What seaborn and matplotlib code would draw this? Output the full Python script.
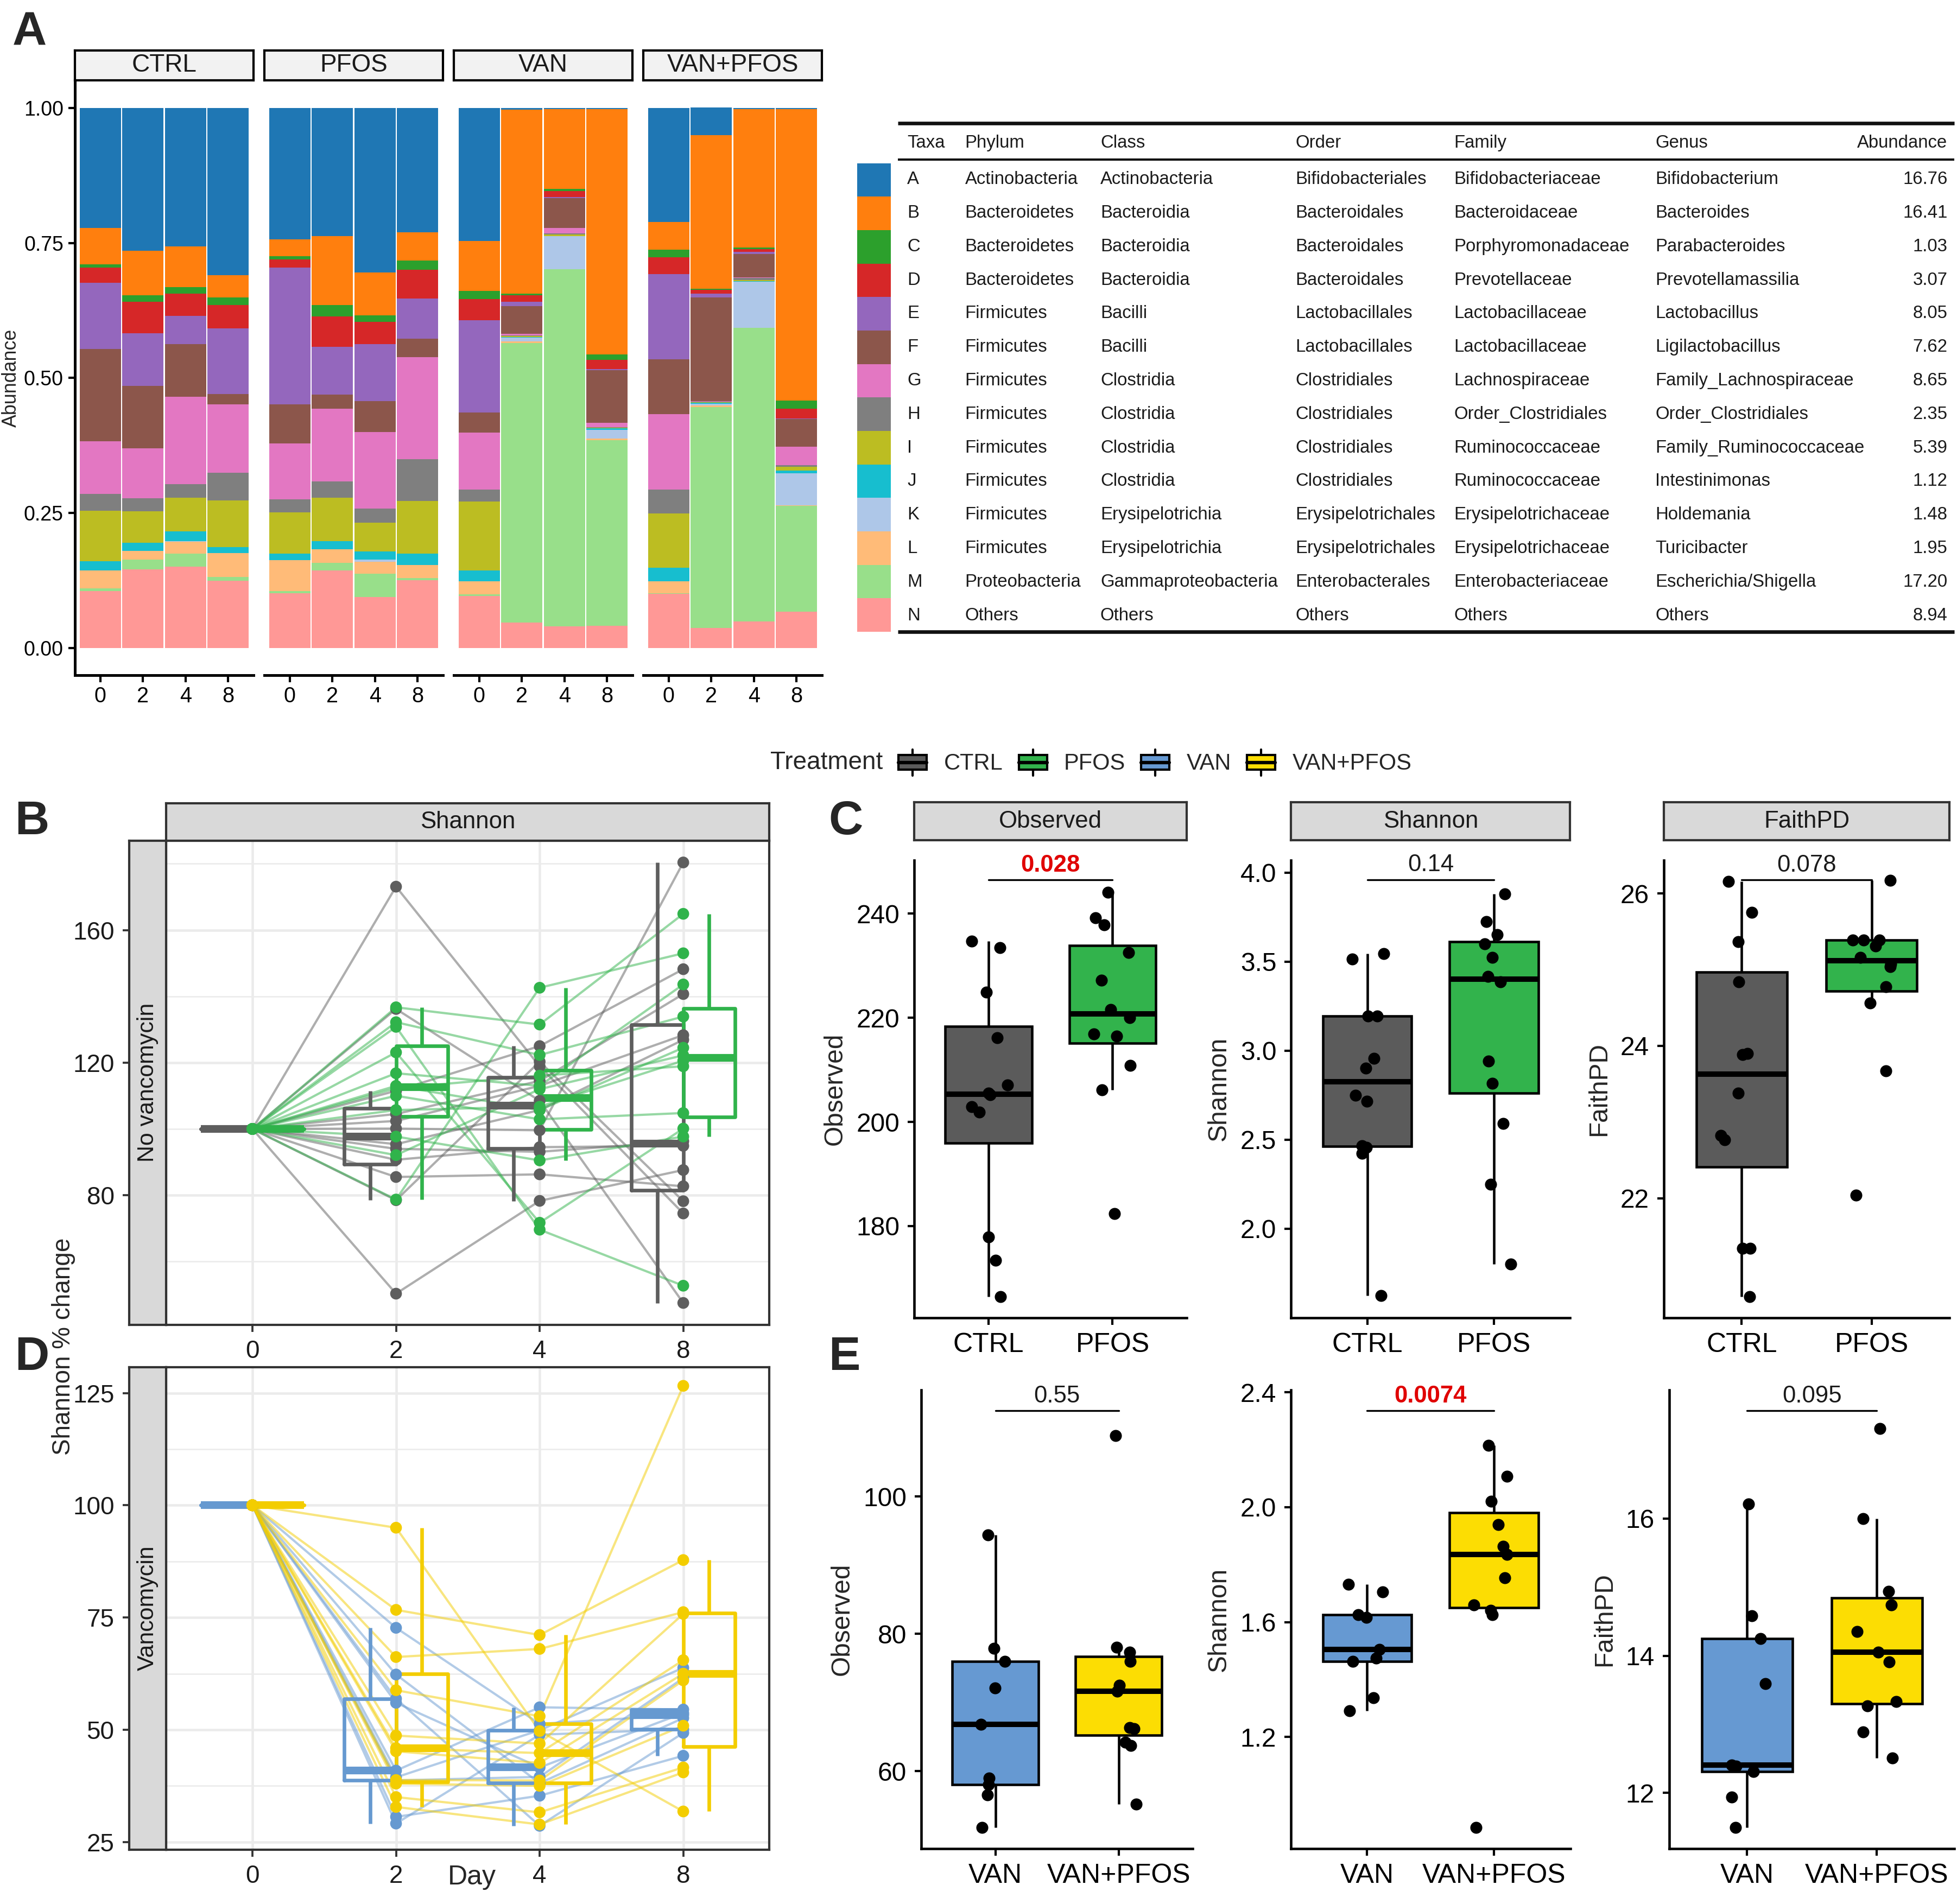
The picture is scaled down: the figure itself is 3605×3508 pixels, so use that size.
import numpy as np
import pandas as pd
import matplotlib
matplotlib.use("Agg")
import matplotlib.pyplot as plt
import seaborn as sns
from matplotlib.lines import Line2D
from matplotlib.patches import Rectangle, Patch
from matplotlib.legend_handler import HandlerBase
from matplotlib.ticker import MultipleLocator, FormatStrFormatter

sns.set_style("ticks")
plt.rcParams['font.family'] = ['Liberation Sans', 'DejaVu Sans']

# ---------------- panel A : relative abundance ----------------
treatments = ['CTRL', 'PFOS', 'VAN', 'VAN+PFOS']
days = ['0', '2', '4', '8']
taxa = list('ABCDEFGHIJKLMN')
taxa_colors = ['#1f77b4', '#ff7f0e', '#2ca02c', '#d62728', '#9467bd', '#8c564b', '#e377c2',
               '#7f7f7f', '#bcbd22', '#17becf', '#aec7e8', '#ffbb78', '#98df8a', '#ff9896']

# 16 samples: CTRL d0,2,4,8 | PFOS d0..8 | VAN d0..8 | VAN+PFOS d0..8
abund_A = [.222, .264, .256, .310, .243, .237, .305, .230, .246, .003, .002, .002, .211, .051, .002, .002]
abund_B = [.068, .083, .076, .041, .031, .128, .079, .052, .093, .341, .148, .454, .051, .285, .256, .540]
abund_C = [.006, .012, .012, .014, .006, .021, .012, .018, .015, .003, .004, .010, .014, .002, .003, .015]
abund_D = [.028, .058, .041, .043, .016, .056, .041, .053, .039, .012, .011, .017, .032, .007, .005, .018]
abund_E = [.122, .098, .052, .122, .253, .089, .106, .074, .171, .008, .002, .002, .157, .007, .004, .001]
abund_F = [.171, .115, .098, .019, .072, .026, .057, .034, .037, .051, .055, .098, .102, .192, .044, .051]
abund_G = [.098, .093, .162, .126, .104, .135, .142, .189, .106, .003, .010, .008, .140, .001, .001, .034]
abund_H = [.031, .024, .025, .052, .024, .030, .026, .078, .022, .001, .002, .001, .044, .001, .004, .003]
abund_I = [.093, .058, .062, .086, .076, .080, .053, .097, .127, .002, .003, .001, .100, .001, .002, .007]
abund_J = [.017, .015, .018, .011, .012, .015, .015, .021, .020, .001, .000, .003, .025, .002, .001, .005]
abund_K = [.000, .000, .001, .000, .000, .000, .004, .000, .000, .007, .062, .016, .000, .003, .085, .060]
abund_L = [.034, .016, .022, .044, .058, .025, .022, .024, .025, .003, .000, .003, .023, .003, .000, .001]
abund_M = [.005, .018, .024, .007, .004, .014, .044, .004, .003, .518, .661, .344, .001, .409, .544, .196]
abund_N = [.105, .146, .151, .125, .101, .144, .094, .126, .096, .047, .040, .041, .100, .037, .049, .067]

# taxonomy table
tab_phylum = ['Actinobacteria', 'Bacteroidetes', 'Bacteroidetes', 'Bacteroidetes', 'Firmicutes',
              'Firmicutes', 'Firmicutes', 'Firmicutes', 'Firmicutes', 'Firmicutes', 'Firmicutes',
              'Firmicutes', 'Proteobacteria', 'Others']
tab_class = ['Actinobacteria', 'Bacteroidia', 'Bacteroidia', 'Bacteroidia', 'Bacilli', 'Bacilli',
             'Clostridia', 'Clostridia', 'Clostridia', 'Clostridia', 'Erysipelotrichia',
             'Erysipelotrichia', 'Gammaproteobacteria', 'Others']
tab_order = ['Bifidobacteriales', 'Bacteroidales', 'Bacteroidales', 'Bacteroidales', 'Lactobacillales',
             'Lactobacillales', 'Clostridiales', 'Clostridiales', 'Clostridiales', 'Clostridiales',
             'Erysipelotrichales', 'Erysipelotrichales', 'Enterobacterales', 'Others']
tab_family = ['Bifidobacteriaceae', 'Bacteroidaceae', 'Porphyromonadaceae', 'Prevotellaceae',
              'Lactobacillaceae', 'Lactobacillaceae', 'Lachnospiraceae', 'Order_Clostridiales',
              'Ruminococcaceae', 'Ruminococcaceae', 'Erysipelotrichaceae', 'Erysipelotrichaceae',
              'Enterobacteriaceae', 'Others']
tab_genus = ['Bifidobacterium', 'Bacteroides', 'Parabacteroides', 'Prevotellamassilia', 'Lactobacillus',
             'Ligilactobacillus', 'Family_Lachnospiraceae', 'Order_Clostridiales', 'Family_Ruminococcaceae',
             'Intestinimonas', 'Holdemania', 'Turicibacter', 'Escherichia/Shigella', 'Others']
tab_abund = [16.76, 16.41, 1.03, 3.07, 8.05, 7.62, 8.65, 2.35, 5.39, 1.12, 1.48, 1.95, 17.20, 8.94]

# ---------------- panels B / D : Shannon % change per mouse ----------------
ctrl_d2 = [173.1, 136.2, 111.5, 104.5, 102.4, 100.1, 95.4, 94.0, 90.7, 85.5, 78.5, 50.3]
ctrl_d4 = [118.9, 108.5, 125.0, 114.5, 113.0, 99.6, 105.7, 93.1, 94.5, 86.3, 120.3, 78.3]
ctrl_d8 = [74.5, 47.5, 148.2, 140.7, 128.3, 180.4, 126.9, 96.3, 94.9, 82.7, 78.2, 87.6]
pfos_d2 = [136.7, 132.2, 130.8, 123.1, 116.8, 113.0, 112.3, 110.0, 105.7, 97.7, 92.1, 78.7]
pfos_d4 = [131.5, 122.3, 69.6, 71.7, 113.0, 105.7, 116.1, 102.9, 106.7, 90.5, 112.0, 142.6]
pfos_d8 = [164.9, 133.9, 52.7, 100.1, 143.6, 124.5, 118.9, 104.8, 120.6, 97.7, 122.2, 153.0]
van_d2 = [72.7, 62.3, 56.9, 56.0, 40.9, 39.4, 38.7, 30.6, 29.1]
van_d4 = [51.3, 38.1, 28.6, 41.6, 55.0, 49.9, 39.5, 35.3, 48.9]
van_d8 = [53.3, 52.6, 49.3, 53.7, 54.5, 63.8, 61.5, 44.2, 50.1]
vp_d2 = [95.0, 76.7, 66.2, 58.8, 48.7, 45.9, 45.2, 38.8, 38.0, 35.0, 32.8]
vp_d4 = [49.7, 71.1, 68.0, 53.0, 46.9, 44.8, 42.6, 38.7, 37.5, 31.6, 28.9]
vp_d8 = [31.8, 87.8, 76.2, 126.6, 75.8, 65.5, 62.5, 61.0, 50.9, 41.6, 40.5]
baseline = 100.0

# ---------------- panels C / E : alpha diversity at day 8 ----------------
obs_ctrl = [234.7, 233.5, 224.9, 216.2, 207.1, 205.2, 205.5, 202.9, 201.9, 177.9, 173.4, 166.4]
obs_pfos = [244.1, 239.2, 237.9, 232.5, 227.2, 221.6, 220.0, 216.9, 216.5, 210.9, 206.2, 182.4]
sha_ctrl = [3.545, 3.513, 3.194, 3.194, 2.955, 2.902, 2.748, 2.714, 2.464, 2.455, 2.422, 1.623]
sha_pfos = [3.879, 3.723, 3.652, 3.600, 3.522, 3.417, 3.386, 2.940, 2.817, 2.592, 2.248, 1.801]
fpd_ctrl = [26.157, 25.754, 25.367, 24.839, 23.903, 23.882, 23.380, 22.826, 22.763, 21.341, 21.341, 20.703]
fpd_pfos = [26.173, 25.388, 25.388, 25.388, 25.310, 25.163, 25.075, 25.040, 24.776, 24.562, 23.668, 22.042]
obs_van = [94.4, 77.9, 76.0, 72.1, 66.8, 59.0, 58.0, 56.5, 51.8]
obs_vp = [108.9, 78.0, 77.3, 76.0, 72.5, 71.6, 66.3, 66.2, 64.2, 63.7, 55.2]
sha_van = [1.731, 1.705, 1.625, 1.616, 1.504, 1.474, 1.463, 1.337, 1.291]
sha_vp = [2.215, 2.108, 2.021, 1.940, 1.864, 1.836, 1.754, 1.659, 1.640, 1.625, 0.885]
fpd_van = [16.21, 14.58, 14.25, 13.59, 12.41, 12.39, 12.31, 11.94, 11.50]
fpd_vp = [17.31, 16.00, 14.94, 14.74, 14.35, 14.05, 13.91, 13.33, 13.27, 12.89, 12.51]
pvals_C = ['0.028', '0.14', '0.078']
pvals_E = ['0.55', '0.0074', '0.095']

line_colors = {'CTRL': '#5E5E5E', 'PFOS': '#30B34B', 'VAN': '#6699D0', 'VAN+PFOS': '#F3CD00'}
fill_colors = {'CTRL': '#5B5B5B', 'PFOS': '#32B34C', 'VAN': '#6699D2', 'VAN+PFOS': '#FCDD03'}

# ---------------- figure ----------------
fig = plt.figure(figsize=(3605 / 300, 3508 / 300), dpi=300)
W, H = 1568.0, 1526.0


def rect(x0, y0, x1, y1):
    return [x0 / W, 1 - y1 / H, (x1 - x0) / W, (y1 - y0) / H]


def strip(box, label, fc, ec, size, rotation=0):
    ax = fig.add_axes(rect(*box))
    ax.set_facecolor(fc)
    ax.set_xticks([])
    ax.set_yticks([])
    for s in ax.spines.values():
        s.set_color(ec)
        s.set_linewidth(1.0)
    ax.text(0.5, 0.5, label, transform=ax.transAxes, ha='center', va='center',
            rotation=rotation, fontsize=size, color='#1a1a1a')
    return ax


def fig_text(x, y, s, **kw):
    fig.text(x / W, 1 - y / H, s, **kw)


# ---- A: stacked bars ----
rows = []
for t, vals in zip(taxa, [abund_A, abund_B, abund_C, abund_D, abund_E, abund_F, abund_G,
                          abund_H, abund_I, abund_J, abund_K, abund_L, abund_M, abund_N]):
    for k, v in enumerate(vals):
        rows.append(dict(taxon=t, treat=treatments[k // 4], day=days[k % 4], value=v))
dfA = pd.DataFrame(rows)
dfA['taxon'] = pd.Categorical(dfA['taxon'], taxa, ordered=True)
dfA = dfA.sort_values(['treat', 'day', 'taxon'], ascending=[True, True, False])
dfA['top'] = dfA.groupby(['treat', 'day'])['value'].cumsum()

xs_A = [(59.9, 203.3), (211.7, 355.1), (363.5, 506.9), (515.3, 658.7)]
for k, tr in enumerate(treatments):
    x0, x1 = xs_A[k]
    ax = fig.add_axes(rect(x0, 64.9, x1, 541))
    sub = dfA[dfA.treat == tr]
    sns.barplot(data=sub, x='day', y='top', hue='taxon', order=days, hue_order=taxa,
                palette=taxa_colors, dodge=False, width=0.97, saturation=1, linewidth=0,
                errorbar=None, legend=False, ax=ax)
    ax.set_xlim(-0.6, 3.6)
    ax.set_ylim(-0.05, 1.05)
    ax.set_xlabel('')
    ax.set_ylabel('')
    ax.spines['top'].set_visible(False)
    ax.spines['right'].set_visible(False)
    ax.spines['bottom'].set_linewidth(1.2)
    ax.spines['bottom'].set_color('black')
    ax.tick_params(axis='x', length=3, width=1, labelsize=9.5, colors='black', pad=2)
    if k == 0:
        ax.set_yticks([0, 0.25, 0.5, 0.75, 1.0])
        ax.yaxis.set_major_formatter(FormatStrFormatter('%.2f'))
        ax.tick_params(axis='y', length=3, width=1, labelsize=9, colors='black', pad=2)
        ax.spines['left'].set_linewidth(1.2)
        ax.spines['left'].set_color('black')
    else:
        ax.spines['left'].set_visible(False)
        ax.tick_params(axis='y', left=False, labelleft=False)
    ax.set_facecolor('none')
    strip((x0, 40.4, x1, 64.2), tr, '#F2F2F2', 'black', 11)

fig_text(9, 303, 'Abundance', rotation=90, ha='center', va='center', fontsize=8.6)

# colour key column of the table
axL = fig.add_axes(rect(687, 130.8, 713.7, 506.4))
sns.barplot(x=[1] * len(taxa), y=taxa, hue=taxa, palette=taxa_colors, orient='h', width=1,
            saturation=1, linewidth=0, legend=False, ax=axL)
axL.set_xlim(0, 1)
axL.set_ylim(len(taxa) - 0.5, -0.5)
axL.axis('off')

# taxonomy table
axT = fig.add_axes(rect(719.4, 90, 1568, 515))
axT.set_xlim(719.4, 1568)
axT.set_ylim(515, 90)
axT.axis('off')
axT.plot([719.4, 1566], [98.9, 98.9], color='#111111', lw=1.6, solid_capstyle='butt')
axT.plot([719.4, 1566], [127.8, 127.8], color='#111111', lw=1.0, solid_capstyle='butt')
axT.plot([719.4, 1566], [506.4, 506.4], color='#111111', lw=1.6, solid_capstyle='butt')
col_x = [726.8, 773.2, 881.6, 1038.1, 1165.1, 1326.2]
headers = ['Taxa', 'Phylum', 'Class', 'Order', 'Family', 'Genus']
tkw = dict(fontsize=7.9, color='#1a1a1a', va='center')
for cx, hd in zip(col_x, headers):
    axT.text(cx, 114.7, hd, ha='left', **tkw)
axT.text(1560.4, 114.7, 'Abundance', ha='right', **tkw)
for i in range(len(taxa)):
    y = 143.9 + i * 26.88
    for cx, col in zip(col_x, [taxa, tab_phylum, tab_class, tab_order, tab_family, tab_genus]):
        axT.text(cx, y, col[i], ha='left', **tkw)
    axT.text(1560.4, y, f"{tab_abund[i]:.2f}", ha='right', **tkw)


# ---- B / D: trajectories ----
def long_df(name, d2, d4, d8):
    out = []
    for m in range(len(d2)):
        for pos, (d, v) in enumerate(zip(days, [baseline, d2[m], d4[m], d8[m]])):
            out.append(dict(mouse=f"{name}{m}", Treatment=name, Day=d, pos=pos, value=v))
    return out


dfB = pd.DataFrame(long_df('CTRL', ctrl_d2, ctrl_d4, ctrl_d8) + long_df('PFOS', pfos_d2, pfos_d4, pfos_d8))
dfD = pd.DataFrame(long_df('VAN', van_d2, van_d4, van_d8) + long_df('VAN+PFOS', vp_d2, vp_d4, vp_d8))


def traj_panel(box, df, groups, ylim, major, minor, strip_label):
    x0, y0, x1, y1 = box
    ax = fig.add_axes(rect(*box))
    pal = {g: line_colors[g] for g in groups}
    sns.lineplot(data=df, x='pos', y='value', hue='Treatment', hue_order=groups, units='mouse',
                 estimator=None, palette=pal, alpha=0.5, lw=1.0, legend=False, ax=ax, zorder=1)
    sns.boxplot(data=df, x='pos', y='value', hue='Treatment', hue_order=groups, palette=pal,
                native_scale=True, fill=False, width=0.72, gap=0, dodge=True, linewidth=1.6,
                showfliers=False, showcaps=False, saturation=1, medianprops=dict(linewidth=3.4),
                legend=False, ax=ax)
    sns.scatterplot(data=df, x='pos', y='value', hue='Treatment', hue_order=groups, palette=pal,
                    s=27, linewidth=0, legend=False, ax=ax, zorder=3)
    ax.set_xlim(-0.6, 3.6)
    ax.set_ylim(*ylim)
    ax.set_xticks(range(len(days)))
    ax.set_xticklabels(days)
    ax.yaxis.set_major_locator(MultipleLocator(major))
    ax.yaxis.set_minor_locator(MultipleLocator(minor))
    ax.set_axisbelow(True)
    ax.grid(True, which='major', color='#EBEBEB', lw=1.1)
    ax.grid(True, which='minor', axis='y', color='#EBEBEB', lw=0.6)
    for s in ax.spines.values():
        s.set_color('#333333')
        s.set_linewidth(1.0)
    ax.tick_params(axis='x', length=3, width=0.9, color='#333333', labelsize=11, labelcolor='#1a1a1a')
    ax.tick_params(axis='y', which='both', left=False, labelleft=False)
    ax.set_xlabel('')
    ax.set_ylabel('')
    # left strip carries the y axis
    sax = fig.add_axes(rect(103.4, y0, 133.2, y1), sharey=ax)
    sax.set_facecolor('#D9D9D9')
    sax.set_xticks([])
    for s in sax.spines.values():
        s.set_color('#333333')
        s.set_linewidth(1.0)
    sax.tick_params(axis='y', which='major', left=True, labelleft=True, length=3, width=0.9,
                    color='#333333', labelsize=11, labelcolor='#1a1a1a')
    sax.tick_params(axis='y', which='minor', left=False)
    sax.text(0.5, 0.5, strip_label, transform=sax.transAxes, ha='center', va='center',
             rotation=90, fontsize=10.3, color='#1a1a1a')
    return ax


axB = traj_panel((133.2, 673.7, 616.5, 1061.8), dfB, ['CTRL', 'PFOS'], (40.9, 187.0), 40, 20,
                 'No vancomycin')
strip((133.2, 643.7, 616.5, 673.7), 'Shannon', '#D9D9D9', '#333333', 10.5)
axD = traj_panel((133.2, 1095.6, 616.5, 1482.4), dfD, ['VAN', 'VAN+PFOS'], (23.3, 130.8), 25, 12.5,
                 'Vancomycin')
fig_text(51, 1079, 'Shannon % change', rotation=90, ha='center', va='center', fontsize=11)
fig_text(378, 1504.5, 'Day', ha='center', va='center', fontsize=12)


# ---- C / E: alpha diversity boxes ----
def alpha_panel(box, groups, vals, ylim, yticks, fmt, ylabel, ptxt, by, strip_label=None):
    ax = fig.add_axes(rect(*box))
    df = pd.DataFrame({'group': np.repeat(groups, [len(v) for v in vals]),
                       'value': np.concatenate(vals)})
    sns.boxplot(data=df, x='group', y='value', hue='group', order=groups, hue_order=groups,
                palette=[fill_colors[g] for g in groups], width=0.7, linecolor='black',
                linewidth=1.1, showfliers=False, showcaps=False, saturation=1,
                medianprops=dict(linewidth=2.4), legend=False, ax=ax)
    sns.stripplot(data=df, x='group', y='value', order=groups, color='black', jitter=0.16,
                  size=5.3, ax=ax, zorder=3)
    ax.set_xlim(-0.6, 1.6)
    ax.set_ylim(*ylim)
    ax.set_yticks(yticks)
    ax.yaxis.set_major_formatter(FormatStrFormatter(fmt))
    ax.spines['top'].set_visible(False)
    ax.spines['right'].set_visible(False)
    for s in ('left', 'bottom'):
        ax.spines[s].set_color('black')
        ax.spines[s].set_linewidth(1.1)
    ax.tick_params(axis='y', length=3, width=1, colors='black', labelsize=11.5)
    ax.tick_params(axis='x', length=3, width=1, colors='black', labelsize=12)
    ax.set_xlabel('')
    ax.set_ylabel(ylabel, fontsize=11.5)
    ax.plot([0, 1], [by, by], color='black', lw=0.8)
    red = ptxt in ('0.028', '0.0074')
    ax.annotate(ptxt, (0.5, by), xytext=(0, 1.5), textcoords='offset points', ha='center',
                va='bottom', fontsize=10.5, color='#E00000' if red else '#1a1a1a',
                fontweight='bold' if red else 'normal')
    if strip_label:
        strip((box[0], 643.0, box[2], 673.6), strip_label, '#D9D9D9', '#333333', 10.5)
    return ax


np.random.seed(7)
cg = ['CTRL', 'PFOS']
eg = ['VAN', 'VAN+PFOS']
alpha_panel((732.5, 689.3, 951, 1056.1), cg, [obs_ctrl, obs_pfos], (162.4, 250.3), [180, 200, 220, 240],
            '%d', 'Observed', pvals_C[0], 246.5, 'Observed')
alpha_panel((1034.5, 689.3, 1258, 1056.1), cg, [sha_ctrl, sha_pfos], (1.50, 4.07), [2.0, 2.5, 3.0, 3.5, 4.0],
            '%.1f', 'Shannon', pvals_C[1], 3.96, 'Shannon')
alpha_panel((1333, 689.3, 1562, 1056.1), cg, [fpd_ctrl, fpd_pfos], (20.43, 26.44), [22, 24, 26],
            '%d', 'FaithPD', pvals_C[2], 26.18, 'FaithPD')
alpha_panel((738.3, 1114.1, 955.6, 1481.6), eg, [obs_van, obs_vp], (48.7, 115.5), [60, 80, 100],
            '%d', 'Observed', pvals_E[0], 112.5)
alpha_panel((1034.4, 1114.1, 1258.1, 1481.6), eg, [sha_van, sha_vp], (0.811, 2.408), [1.2, 1.6, 2.0, 2.4],
            '%.1f', 'Shannon', pvals_E[1], 2.336)
alpha_panel((1337.5, 1114.1, 1566, 1481.6), eg, [fpd_van, fpd_vp], (11.19, 17.87), [12, 14, 16],
            '%d', 'FaithPD', pvals_E[2], 17.57)


# ---- Treatment legend ----
class BoxKey(HandlerBase):
    def create_artists(self, legend, orig_handle, xdescent, ydescent, width, height, fontsize, trans):
        fc = orig_handle.get_facecolor()
        x0, y0 = -xdescent, -ydescent
        box = Rectangle((x0, y0 + 0.22 * height), width, 0.56 * height, facecolor=fc,
                        edgecolor='black', lw=1.0, transform=trans)
        med = Line2D([x0, x0 + width], [y0 + 0.5 * height] * 2, color='black', lw=1.5, transform=trans)
        w1 = Line2D([x0 + width / 2] * 2, [y0, y0 + 0.22 * height], color='black', lw=1.0, transform=trans)
        w2 = Line2D([x0 + width / 2] * 2, [y0 + 0.78 * height, y0 + height], color='black', lw=1.0,
                    transform=trans)
        return [w1, w2, box, med]


handles = [Patch(facecolor=fill_colors[t]) for t in treatments]
fig.legend(handles, treatments, handler_map={Patch: BoxKey()}, loc='center left',
           bbox_to_anchor=(720 / W, 1 - 611 / H), ncol=4, frameon=False, fontsize=10,
           handlelength=1.25, handleheight=1.4, handletextpad=0.75, columnspacing=0.7,
           borderaxespad=0, borderpad=0)
fig_text(617, 611, 'Treatment', ha='left', va='center', fontsize=11)

# ---- panel letters ----
for lab, x, y in [('A', 10, 26), ('B', 12, 659), ('C', 664, 659), ('D', 12, 1088), ('E', 664, 1088)]:
    fig_text(x, y, lab, ha='left', va='center', fontsize=21, fontweight='bold')

fig.savefig('out.png', dpi=300)
